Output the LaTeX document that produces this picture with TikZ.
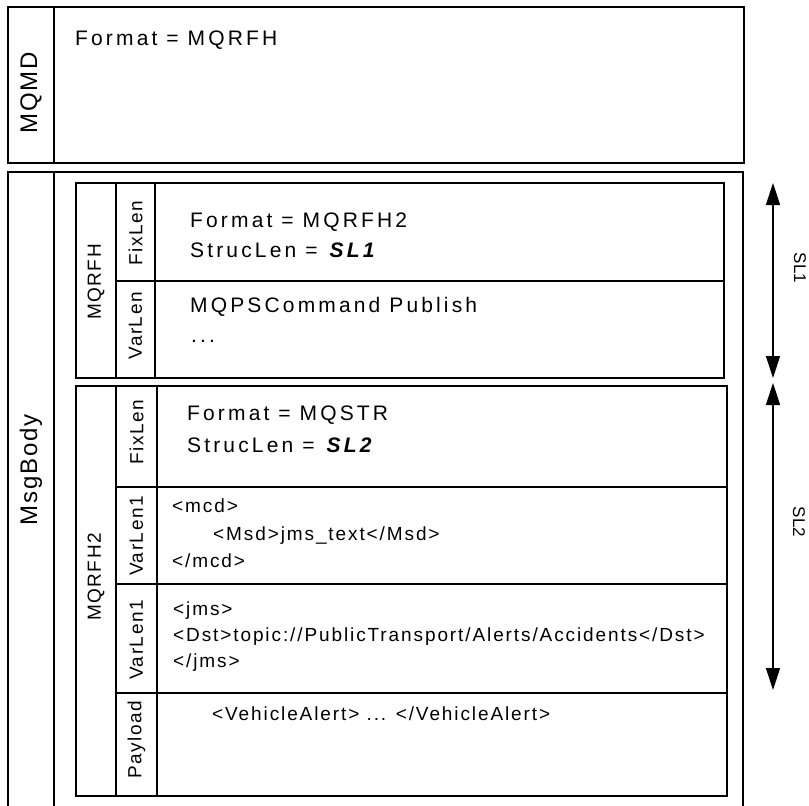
\documentclass[tikz,border=0pt]{standalone}
\usepackage{fontspec}
\setmainfont{Liberation Sans}
\newfontfamily\fieldfont[LetterSpace=15]{Liberation Sans}
\newfontfamily\xmlfont[LetterSpace=10]{Liberation Sans}
\newfontfamily\tagfont[LetterSpace=8]{Liberation Sans}
\usetikzlibrary{arrows.meta}

\tikzstyle{area}=[draw=black, line width=1.6pt]
\tikzstyle{divider}=[draw=black, line width=1.4pt]
\tikzstyle{sidetag}=[rotate=90, inner sep=0pt, font=\tagfont\fontsize{19}{19}\selectfont]
\tikzstyle{bigtag}=[sidetag, font=\tagfont\fontsize{24}{24}\selectfont]
\tikzstyle{fieldtext}=[anchor=base west, inner sep=0pt, font=\fieldfont\fontsize{21}{21}\selectfont]
\tikzstyle{xmltext}=[anchor=base west, inner sep=0pt, font=\xmlfont\fontsize{19}{19}\selectfont]
\tikzstyle{lenLine}=[line width=1.4pt, {Triangle[length=22pt,width=14pt]}-{Triangle[length=22pt,width=14pt]}]
\tikzstyle{lenlabel}=[rotate=-90, inner sep=0pt, font=\fontsize{17}{17}\selectfont]

\newcommand{\lenname}[1]{\textbf{\textit{#1}}}

\begin{document}
\begin{tikzpicture}[x=1pt, y=-1pt]
\useasboundingbox (0,0) rectangle (809,806);

% message descriptor
\draw[area] (8,7) rectangle (744,163);
\draw[divider] (54,7) -- (54,163);
\node (MQMD) [bigtag] at (31,93) {MQMD};
\node (mdFormat) [fieldtext] at (75,45) {Format = MQRFH};

% message body, runs off the bottom
\draw[area] (8,806) |- (743,172) -- (743,806);
\draw[divider] (54,172) -- (54,806);
\node (MsgBody) [bigtag] at (31,470) {MsgBody};

% first header
\draw[area] (76,183) rectangle (724,378);
\draw[divider] (116,183) -- (116,378);
\draw[divider] (155,183) -- (155,378);
\draw[divider] (116,281) -- (724,281);
\node (MQRFH) [sidetag] at (96,282) {MQRFH};
\node (rfhFix) [sidetag] at (135.5,233) {FixLen};
\node (rfhVar) [sidetag] at (135.5,326) {VarLen};
\node (rfhFormat) [fieldtext] at (190,227) {Format = MQRFH2};
\node (rfhLen) [fieldtext] at (190,257) {StrucLen = \lenname{SL1}};
\node (rfhCmd) [fieldtext] at (190,312) {MQPSCommand Publish};
\node (rfhMore) [fieldtext] at (191,342) {...};

% second header
\draw[area] (76,386) rectangle (727,796);
\draw[divider] (116,386) -- (116,796);
\draw[divider] (157,386) -- (157,796);
\draw[divider] (116,487) -- (727,487);
\draw[divider] (116,584) -- (727,584);
\draw[divider] (116,693) -- (727,693);
\node (MQRFH2) [sidetag] at (96,577) {MQRFH2};
\node (rfh2Fix) [sidetag] at (136.5,432) {FixLen};
\node (rfh2VarA) [sidetag] at (136.5,536) {VarLen1};
\node (rfh2VarB) [sidetag] at (136.5,640) {VarLen1};
\node (Payload) [sidetag] at (136.5,740) {Payload};
\node (rfh2Format) [fieldtext] at (187,420) {Format = MQSTR};
\node (rfh2Len) [fieldtext] at (187,452) {StrucLen = \lenname{SL2}};
\node (mcdOpen) [xmltext] at (172,512) {<mcd>};
\node (msd) [xmltext] at (213,540) {<Msd>jms\_text</Msd>};
\node (mcdClose) [xmltext] at (172,567) {</mcd>};
\node (jmsOpen) [xmltext] at (173,615) {<jms>};
\node (dst) [xmltext] at (173,641) {<Dst>topic://PublicTransport/Alerts/Accidents</Dst>};
\node (jmsClose) [xmltext] at (173,667) {</jms>};
\node (body) [xmltext] at (212,720) {<VehicleAlert> ... </VehicleAlert>};

% structure lengths
\coordinate (sl1top) at (773,183);
\coordinate (sl1bot) at (773,378);
\coordinate (sl2top) at (773,383);
\coordinate (sl2bot) at (773,690);
\draw[lenLine] (sl1top) -- (sl1bot);
\draw[lenLine] (sl2top) -- (sl2bot);
\node (SL1) [lenlabel] at (800,268) {SL1};
\node (SL2) [lenlabel] at (799,522) {SL2};

\end{tikzpicture}
\end{document}
